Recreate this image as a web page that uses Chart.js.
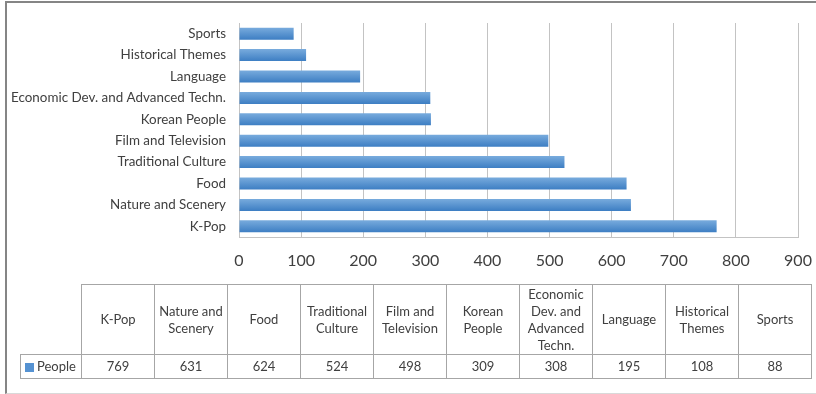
<!DOCTYPE html>
<html>
<head>
<meta charset="utf-8">
<script src="https://cdn.jsdelivr.net/npm/chart.js@4.4.1/dist/chart.umd.min.js"></script>
<style>
  body { margin: 0; background: #fff; font-family: Lato, "Liberation Sans", sans-serif; }
  #wrap { position: relative; width: 816px; height: 394px; overflow: hidden; }
  #frame {
    position: absolute; left: 5px; top: 1px; width: 820px; height: 390px;
    border-left: 2px solid #858585; border-top: 2px solid #858585; border-bottom: 1px solid #d9d9d9;
  }
  #chart { position: absolute; left: 0; top: 0; }
  #dataTable {
    position: absolute; left: 20px; top: 284px;
    border-collapse: collapse; table-layout: fixed;
    font-size: 13px; line-height: 17px; color: #404040;
  }
  #dataTable td { border: 1px solid #a6a6a6; text-align: center; padding: 0; width: 72px; }
  #dataTable tr.head td { height: 69px; }
  #dataTable tr.vals td { height: 23px; }
  #dataTable td.corner { border: none; width: 60px; }
  #dataTable td.key { text-align: left; padding-left: 4px; width: 56px; }
  .swatch { display: inline-block; width: 9px; height: 9px; background: #5592d2; margin-right: 3px; vertical-align: -1px; }
</style>
</head>
<body>
<div id="wrap">
  <div id="frame"></div>
  <canvas id="chart" width="816" height="394"></canvas>
  <table id="dataTable"></table>
</div>
<script>
const topics = ['K-Pop', 'Nature and Scenery', 'Food', 'Traditional Culture', 'Film and Television',
  'Korean People', 'Economic Dev. and Advanced Techn.', 'Language', 'Historical Themes', 'Sports'];
// header cells wrap differently from the axis labels
const tableHeads = ['K-Pop', 'Nature and<br>Scenery', 'Food', 'Traditional<br>Culture', 'Film and<br>Television',
  'Korean<br>People', 'Economic<br>Dev. and<br>Advanced<br>Techn.', 'Language', 'Historical<br>Themes', 'Sports'];
const people = [769, 631, 624, 524, 498, 309, 308, 195, 108, 88];
const seriesName = 'People';
const xTicks = [0, 100, 200, 300, 400, 500, 600, 700, 800, 900];

const textColor = '#404040';
const gridColor = '#c3c3c3';
const barH = 12;

// vertical gradient per bar, lighter on top
function barFill(c) {
  const chart = c.chart;
  const ys = chart.scales.y;
  if (!ys || c.dataIndex === undefined) return '#5592d2';
  const yc = ys.getPixelForValue(c.dataIndex);
  if (!isFinite(yc)) return '#5592d2';
  const g = chart.ctx.createLinearGradient(0, yc - barH / 2, 0, yc + barH / 2);
  g.addColorStop(0, '#78abdd');
  g.addColorStop(1, '#3d7ec3');
  return g;
}

new Chart(document.getElementById('chart'), {
  type: 'bar',
  data: {
    labels: topics,
    datasets: [{
      label: seriesName,
      data: people,
      backgroundColor: barFill,
      borderWidth: 0,
      categoryPercentage: 1,
      barPercentage: 0.56
    }]
  },
  options: {
    indexAxis: 'y',
    responsive: false,
    devicePixelRatio: 1,
    animation: false,
    layout: { padding: { left: 0, right: 18, top: 23, bottom: 0 } },
    plugins: { legend: { display: false }, tooltip: { enabled: false } },
    scales: {
      x: {
        min: xTicks[0],
        max: xTicks[xTicks.length - 1],
        afterBuildTicks: s => { s.ticks = xTicks.map(v => ({ value: v })); },
        afterFit: s => {
          s.height = 394 - 237;
          s.paddingLeft = 0;
          s.paddingRight = 0;
        },
        grid: { color: gridColor, lineWidth: 1, drawTicks: false },
        border: { display: true, color: gridColor },
        ticks: { color: textColor, font: { family: 'Lato', size: 16 }, padding: 14 }
      },
      y: {
        reverse: true,
        afterFit: s => { s.width = 239; },
        grid: { display: false, drawTicks: false },
        border: { display: true, color: gridColor },
        ticks: { color: textColor, font: { family: 'Lato', size: 13.4 }, padding: 13, autoSkip: false }
      }
    }
  }
});

// data table under the plot
const table = document.getElementById('dataTable');
let head = '<tr class="head"><td class="corner"></td>';
tableHeads.forEach(h => { head += '<td>' + h + '</td>'; });
head += '</tr>';
let row = '<tr class="vals"><td class="key"><span class="swatch"></span>' + seriesName + '</td>';
people.forEach(v => { row += '<td>' + v + '</td>'; });
row += '</tr>';
table.innerHTML = head + row;
</script>
</body>
</html>
